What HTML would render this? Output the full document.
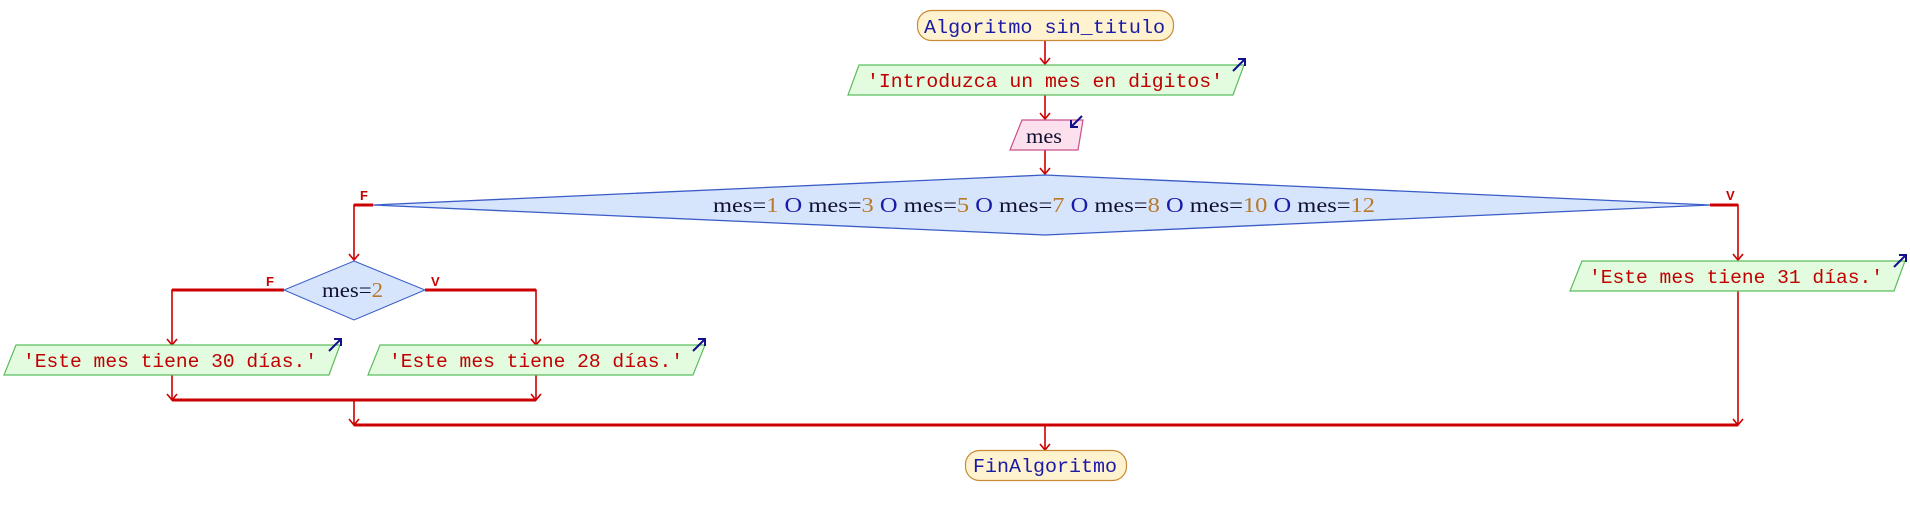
<!DOCTYPE html>
<html><head><meta charset="utf-8"><style>
html,body{margin:0;padding:0;background:#fff;}
svg{display:block;}
text{font-family:"Liberation Mono",monospace;font-size:19.5px;}
.sf{font-family:"Liberation Serif",serif;font-size:21px;}
.s{fill:#c00000}.k{fill:#1a1aa8}.v{fill:#101030}.n{fill:#b87a2a}
.lbl{font-family:"Liberation Sans",sans-serif;font-weight:bold;font-size:13px;fill:#cc0000}
</style></head><body>
<svg width="1910" height="515" viewBox="0 0 1910 515" xmlns="http://www.w3.org/2000/svg">
<g fill="none" stroke="#cc0000" stroke-width="1.6">
<line x1="1045" y1="41" x2="1045" y2="64"/>
<line x1="1045" y1="95" x2="1045" y2="119"/>
<line x1="1045" y1="150" x2="1045" y2="174"/>
<polyline points="373,205 354,205 354,260" />
<polyline points="1710,205 1738,205 1738,260" />
<polyline points="284,290 172,290 172,345"/>
<polyline points="425,290 536,290 536,345"/>
<line x1="172" y1="375" x2="172" y2="400"/>
<line x1="536" y1="375" x2="536" y2="400"/>
<line x1="354" y1="400" x2="354" y2="425"/>
<line x1="1738" y1="291" x2="1738" y2="425"/>
<line x1="1045" y1="425" x2="1045" y2="450"/>
</g>
<g fill="none" stroke="#cc0000" stroke-width="3">
<line x1="354" y1="205" x2="373" y2="205"/>
<line x1="1710" y1="205" x2="1738" y2="205"/>
<line x1="172" y1="290" x2="284" y2="290"/>
<line x1="425" y1="290" x2="536" y2="290"/>
<line x1="172" y1="400" x2="536" y2="400"/>
<line x1="354" y1="425" x2="1738" y2="425"/>
</g>
<g fill="none" stroke="#cc0000" stroke-width="1.6">
<polyline points="1040,58 1045,64 1050,58"/>
<polyline points="1040,113 1045,119 1050,113"/>
<polyline points="1040,168 1045,174 1050,168"/>
<polyline points="349,254 354,260 359,254"/>
<polyline points="1733,254 1738,260 1743,254"/>
<polyline points="167,339 172,345 177,339"/>
<polyline points="531,339 536,345 541,339"/>
<polyline points="167,394 172,400 177,394"/>
<polyline points="531,394 536,400 541,394"/>
<polyline points="349,419 354,425 359,419"/>
<polyline points="1733,419 1738,425 1743,419"/>
<polyline points="1040,444 1045,450 1050,444"/>
</g>
<rect x="917.5" y="10.5" width="256" height="30" rx="14" fill="#fff2cf" stroke="#c98a35" stroke-width="1.2"/>
<rect x="965.5" y="450.5" width="161" height="30" rx="14" fill="#fff2cf" stroke="#c98a35" stroke-width="1.2"/>
<g fill="#e3fce0" stroke="#5cbd5c" stroke-width="1.2">
<polygon points="859,65 1244,65 1233,95 848,95"/>
<polygon points="16,345 340,345 329,375 4,375"/>
<polygon points="380,345 705,345 693,375 368,375"/>
<polygon points="1582,261 1905,261 1894,291 1570,291"/>
</g>
<polygon points="1022,120 1083,120 1078,150 1010,150" fill="#fde0ee" stroke="#c8508a" stroke-width="1.2"/>
<polygon points="1045,175 1710,205 1045,235 373,205" fill="#d6e4fc" stroke="#3a5cc8" stroke-width="1.3"/>
<polygon points="354,261 425,290 354,320 284,290" fill="#d6e4fc" stroke="#3a5cc8" stroke-width="1"/>
<g fill="none" stroke="#10108a" stroke-width="2">
<line x1="1233" y1="71" x2="1245" y2="59"/><polyline points="1238,59 1245,59 1245,66"/>
<line x1="1082" y1="116" x2="1071" y2="127"/><polyline points="1071,120 1071,127 1078,127"/>
<line x1="329" y1="351" x2="341" y2="339"/><polyline points="334,339 341,339 341,346"/>
<line x1="693" y1="351" x2="705" y2="339"/><polyline points="698,339 705,339 705,346"/>
<line x1="1894" y1="267" x2="1906" y2="255"/><polyline points="1899,255 1906,255 1906,262"/>
</g>
<text class="lbl" x="360" y="200">F</text>
<text class="lbl" x="1726" y="200">V</text>
<text class="lbl" x="266" y="286">F</text>
<text class="lbl" x="431" y="286">V</text>
<text class="k" x="924" y="33" textLength="241" lengthAdjust="spacingAndGlyphs">Algoritmo sin_titulo</text>
<text class="s" x="867" y="87" textLength="356" lengthAdjust="spacingAndGlyphs">'Introduzca un mes en digitos'</text>
<text class="v sf" x="1026" y="143" textLength="36" lengthAdjust="spacingAndGlyphs">mes</text>
<text class="sf" x="713" y="212" textLength="662" lengthAdjust="spacingAndGlyphs"><tspan class="v">mes=</tspan><tspan class="n">1</tspan> <tspan class="k">O</tspan> <tspan class="v">mes=</tspan><tspan class="n">3</tspan> <tspan class="k">O</tspan> <tspan class="v">mes=</tspan><tspan class="n">5</tspan> <tspan class="k">O</tspan> <tspan class="v">mes=</tspan><tspan class="n">7</tspan> <tspan class="k">O</tspan> <tspan class="v">mes=</tspan><tspan class="n">8</tspan> <tspan class="k">O</tspan> <tspan class="v">mes=</tspan><tspan class="n">10</tspan> <tspan class="k">O</tspan> <tspan class="v">mes=</tspan><tspan class="n">12</tspan></text>
<text class="sf" x="322" y="297" textLength="61" lengthAdjust="spacingAndGlyphs"><tspan class="v">mes=</tspan><tspan class="n">2</tspan></text>
<text class="s" x="23" y="367" textLength="294" lengthAdjust="spacingAndGlyphs">'Este mes tiene 30 días.'</text>
<text class="s" x="389" y="367" textLength="294" lengthAdjust="spacingAndGlyphs">'Este mes tiene 28 días.'</text>
<text class="s" x="1589" y="283" textLength="294" lengthAdjust="spacingAndGlyphs">'Este mes tiene 31 días.'</text>
<text class="k" x="973" y="472" textLength="144" lengthAdjust="spacingAndGlyphs">FinAlgoritmo</text>
</svg>
</body></html>
